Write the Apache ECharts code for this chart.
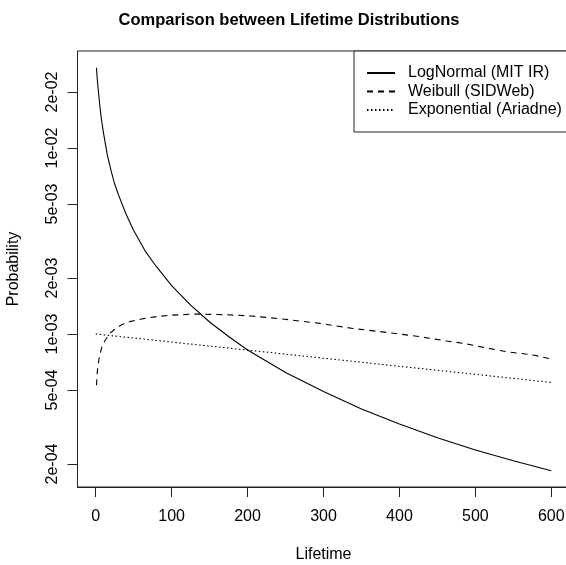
<!DOCTYPE html>
<html>
<head>
<meta charset="utf-8">
<script src="https://cdn.jsdelivr.net/npm/echarts@6/dist/echarts.min.js"></script>
<style>
html,body{margin:0;padding:0;background:#fff;}
#chart{width:566px;height:565px;}
</style>
</head>
<body>
<div id="chart"></div>
<script>
// ---- data ----
var seriesNames = ['LogNormal (MIT IR)', 'Weibull (SIDWeb)', 'Exponential (Ariadne)'];

var lnLifetime = [1, 2, 3, 5, 7, 10, 15, 20, 25, 30, 40, 50, 65, 80, 100, 125, 150, 175, 200, 250, 300, 350, 400, 450, 500, 550, 600];
var lnProb = [0.0270, 0.0235, 0.0212, 0.0175, 0.0148, 0.0122, 0.0093, 0.0076, 0.0064, 0.0056, 0.0044, 0.0036, 0.0028, 0.0023, 0.00182, 0.00143, 0.00116, 0.00097, 0.00082, 0.00062, 0.00049, 0.000395, 0.000328, 0.000277, 0.000238, 0.000208, 0.000184];

var wbLifetime = [1, 2, 3, 5, 8, 12, 19, 25, 34, 45, 63, 80, 96, 131, 170, 205, 249, 295, 339, 383, 427, 462, 484, 506, 541, 576, 600];
var wbProb = [0.00053, 0.00062, 0.00068, 0.00076, 0.00085, 0.00092, 0.00101, 0.00106, 0.00112, 0.001165, 0.00121, 0.00124, 0.00126, 0.00128, 0.00127, 0.00125, 0.00120, 0.00114, 0.00107, 0.00102, 0.000967, 0.000917, 0.000891, 0.000855, 0.000803, 0.000771, 0.000734];

var exLifetime = [0, 50, 100, 150, 200, 250, 300, 350, 400, 450, 500, 550, 600];
var exProb = [0.001, 0.000951, 0.000905, 0.000861, 0.000819, 0.000779, 0.000741, 0.000705, 0.000670, 0.000638, 0.000607, 0.000577, 0.000549];

var xTicks = [0, 100, 200, 300, 400, 500, 600];
var yTicks = [0.0002, 0.0005, 0.001, 0.002, 0.005, 0.01, 0.02];
var yTickLabels = ['2e-04', '5e-04', '1e-03', '2e-03', '5e-03', '1e-02', '2e-02'];

function pairs(xs, ys) {
  var out = [];
  for (var i = 0; i < xs.length; i++) out.push([xs[i], ys[i]]);
  return out;
}

var FONT = 'Liberation Sans, Arial, sans-serif';
var chart = echarts.init(document.getElementById('chart'), null, {renderer: 'canvas'});

var option = {
  animation: false,
  backgroundColor: '#ffffff',
  title: {
    text: 'Comparison between Lifetime Distributions',
    left: 284, textAlign: 'center',
    top: 7,
    textStyle: {fontFamily: FONT, fontSize: 16.5, fontWeight: 'bold', color: '#000'}
  },
  legend: {
    orient: 'vertical',
    left: 354, top: 51,
    padding: [14, 40, 14, 12],
    itemWidth: 28, itemHeight: 14, itemGap: 2.5,
    borderColor: '#222', borderWidth: 1,
    backgroundColor: '#fff',
    itemStyle: {opacity: 0},
    textStyle: {fontFamily: FONT, fontSize: 16, color: '#000', padding: [0, 0, 0, 8]},
    data: seriesNames
  },
  grid: {left: 77.5, top: 51, width: 492, height: 436, show: true, borderColor: '#222', borderWidth: 1, containLabel: false, outerBoundsMode: 'none'},
  xAxis: {
    type: 'value', min: -24, max: 624,
    name: 'Lifetime', nameLocation: 'middle', nameGap: 60,
    nameTextStyle: {fontFamily: FONT, fontSize: 16, color: '#000'},
    axisLine: {show: true, onZero: false, lineStyle: {color: '#222', width: 1}},
    axisTick: {show: true, inside: false, length: 10, lineStyle: {color: '#222'}, customValues: xTicks},
    axisLabel: {fontFamily: FONT, fontSize: 16, color: '#000', margin: 22, customValues: xTicks},
    splitLine: {show: false}
  },
  yAxis: {
    type: 'log', logBase: 10, min: 1.504e-4, max: 0.03323,
    name: 'Probability', nameLocation: 'middle', nameGap: 56,
    nameTextStyle: {fontFamily: FONT, fontSize: 16, color: '#000'},
    axisLine: {show: true, onZero: false, lineStyle: {color: '#222', width: 1}},
    axisTick: {show: true, inside: false, length: 10, lineStyle: {color: '#222'}, customValues: yTicks},
    axisLabel: {
      fontFamily: FONT, fontSize: 16, color: '#000', margin: 17, rotate: 90,
      customValues: yTicks,
      formatter: function (v) {
        for (var i = 0; i < yTicks.length; i++) {
          if (Math.abs(v - yTicks[i]) / yTicks[i] < 1e-6) return yTickLabels[i];
        }
        return '';
      }
    },
    splitLine: {show: false}
  },
  series: [
    {
      name: seriesNames[0], type: 'line', showSymbol: false, symbol: 'none',
      lineStyle: {color: '#000', width: 1.1, type: 'solid'},
      itemStyle: {color: '#000'},
      data: pairs(lnLifetime, lnProb)
    },
    {
      name: seriesNames[1], type: 'line', showSymbol: false, symbol: 'none',
      lineStyle: {color: '#000', width: 1.1, type: [6, 5]},
      itemStyle: {color: '#000'},
      data: pairs(wbLifetime, wbProb)
    },
    {
      name: seriesNames[2], type: 'line', showSymbol: false, symbol: 'none',
      lineStyle: {color: '#000', width: 1.1, type: [1.5, 2.5]},
      itemStyle: {color: '#000'},
      data: pairs(exLifetime, exProb)
    }
  ]
};
chart.setOption(option);
</script>
</body>
</html>
